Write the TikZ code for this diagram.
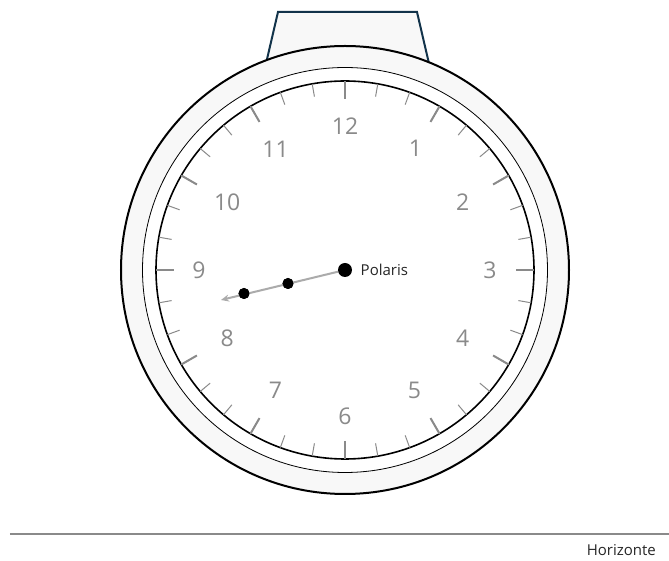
\documentclass[tikz,border=0pt]{standalone}
\usepackage{fontspec}
\setmainfont{Open Sans}
\usepackage{tikz}
\usetikzlibrary{arrows.meta, positioning}

\definecolor{gris}{HTML}{8A8A8A}
\definecolor{grisclaro}{HTML}{ABABAB}
\definecolor{fondo}{HTML}{F8F8F8}
\definecolor{correa}{HTML}{12334A}

\begin{document}
\begin{tikzpicture}[
    x=1pt, y=1pt,
    numero/.style={font=\fontsize{23}{23}\selectfont, text=gris},
    marca/.style={draw=gris, line width=1pt},
    marca_mayor/.style={draw=gris, line width=2pt},
    estrella/.style={circle, fill=black, inner sep=0pt, minimum size=11pt},
    mano/.style={draw=grisclaro, line width=2pt, -{Stealth[length=8pt, width=7pt]}},
    etiqueta/.style={font=\fontsize{15}{15}\selectfont, text=black!85}
]
\useasboundingbox (-345,-291) rectangle (324,270);

% Correa
\draw[fill=fondo, draw=correa, line width=2pt] (-80.5,200) -- (-67,258) -- (72,258) -- (85.5,200);

% Caja
\draw[fill=fondo, line width=2pt] (0,0) circle (224);
\draw[fill=white, line width=0.8pt] (0,0) circle (202.5);
\draw[line width=1.6pt] (0,0) circle (189);

% Marcas
\foreach \a in {0,10,...,350}
    \draw[marca] (\a:176) -- (\a:189);
\foreach \a in {0,30,...,330}
    \draw[marca_mayor] (\a:171) -- (\a:189);

% Numeros
\foreach \h/\r in {1/141, 2/136, 3/145, 4/136, 5/139, 6/146,
                   7/139, 8/136, 9/146, 10/136, 11/139, 12/144}
    \node[numero] (h\h) at ({90-30*\h}:\r) {\h};

% Estrellas
\node[estrella, minimum size=14pt] (polaris) at (0,0) {};
\node[estrella] (e1) at (-57,-13.5) {};
\node[estrella] (e2) at (-101,-23.5) {};
\coordinate (punta) at (-124,-30);
\node[etiqueta, right=5pt of polaris] (nombre) {Polaris};

\draw[mano] (polaris) -- (punta);
\node[estrella] at (e1) {};
\node[estrella] at (e2) {};

% Horizonte
\coordinate (hz1) at (-335,-264);
\coordinate (hz2) at (324,-264);
\draw[draw=gris, line width=2pt] (hz1) -- (hz2);
\node[etiqueta, anchor=base east, inner sep=0pt] (horizonte) at (311,-286) {Horizonte};

\end{tikzpicture}
\end{document}
